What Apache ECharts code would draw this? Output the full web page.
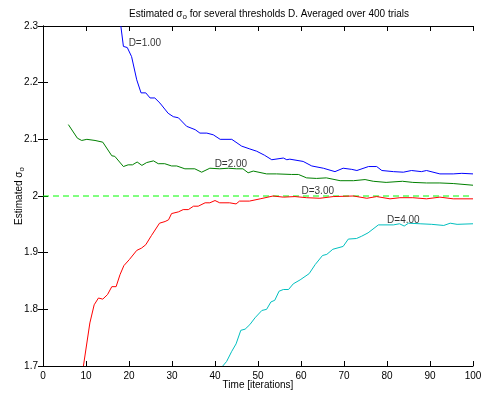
<!DOCTYPE html>
<html>
<head>
<meta charset="utf-8">
<script src="https://cdn.jsdelivr.net/npm/echarts@6/dist/echarts.min.js"></script>
<style>
  html, body { margin: 0; padding: 0; background: #fff; }
  #chart { width: 483px; height: 394px; }
</style>
</head>
<body>
<div id="chart"></div>
<script>
// x ticks / y ticks
const xTicks = { min: 0, max: 100, step: 10 };
const yTicks = { min: 1.7, max: 2.3, step: 0.1 };
const trueSigma = 2.0;

// [iteration, estimated sigma]
const d1Data = [[18.1,2.3],[18.7,2.264],[19.6,2.262],[20.6,2.246],[21.8,2.205],[22.8,2.182],[23.9,2.182],[24.9,2.173],[26,2.173],[27.2,2.164],[29.1,2.146],[30.3,2.14],[31.5,2.138],[33.4,2.123],[35.4,2.117],[36.5,2.111],[38.1,2.111],[39.6,2.108],[41.2,2.1],[43.9,2.1],[46.2,2.088],[48.1,2.083],[49.7,2.079],[51.5,2.072],[53.2,2.064],[55.9,2.067],[56.7,2.064],[57.4,2.065],[60.5,2.061],[62.5,2.053],[65.2,2.049],[67.9,2.043],[69.8,2.049],[71.8,2.047],[73,2.045],[75.7,2.052],[77.6,2.052],[78.8,2.045],[81.5,2.043],[83.8,2.042],[85.7,2.045],[88,2.043],[89.2,2.045],[92.3,2.039],[95.4,2.039],[97.4,2.04],[100,2.039]];
const d2Data = [[5.9,2.126],[8,2.102],[9,2.098],[10.2,2.1],[12.1,2.098],[13.9,2.095],[16,2.071],[16.7,2.07],[18.7,2.052],[19.8,2.055],[20.8,2.055],[21.9,2.06],[23,2.054],[24.1,2.059],[25.7,2.062],[26.8,2.057],[28.3,2.057],[29.9,2.053],[31.1,2.053],[33,2.048],[35.3,2.048],[36.9,2.042],[38.8,2.049],[41.1,2.048],[43.1,2.049],[45,2.048],[46.5,2.048],[47.7,2.041],[48.9,2.044],[52,2.039],[54.3,2.039],[57.8,2.038],[59.4,2.038],[61.3,2.032],[63.6,2.031],[65.9,2.032],[69.1,2.027],[72.2,2.027],[74.9,2.029],[76.8,2.026],[79.8,2.024],[83.6,2.026],[86,2.024],[89.2,2.023],[92.3,2.023],[95.4,2.022],[100,2.019]];
const d3Data = [[9.4,1.7],[10.9,1.776],[11.9,1.808],[12.9,1.82],[13.9,1.818],[15,1.826],[16,1.84],[17,1.84],[17.9,1.861],[18.8,1.877],[20.1,1.888],[21.8,1.904],[22.9,1.908],[23.9,1.914],[25.2,1.93],[27.1,1.952],[28.4,1.955],[29.2,1.958],[29.9,1.969],[31.5,1.972],[32.6,1.976],[33.8,1.976],[35,1.982],[36.1,1.982],[37.7,1.988],[38.8,1.988],[40,1.992],[41.1,1.988],[43.4,1.988],[44.9,1.986],[45.7,1.991],[48,1.991],[50.5,1.995],[53.5,2.0],[55.9,1.998],[58.6,1.999],[61.3,1.997],[64.4,1.996],[67.5,1.999],[72.2,2.0],[75.3,1.996],[77.6,1.999],[80.7,1.995],[83,1.997],[86,1.997],[89.2,1.995],[92.3,1.998],[95.4,1.995],[100,1.995]];
const d4Data = [[41.8,1.7],[42.7,1.708],[43.9,1.726],[44.9,1.739],[46,1.763],[47,1.765],[48.1,1.773],[49.3,1.785],[50.9,1.798],[52,1.8],[53,1.813],[53.9,1.816],[54.9,1.832],[55.9,1.835],[57.1,1.835],[58.2,1.845],[59.8,1.852],[61.9,1.863],[63.3,1.879],[65,1.895],[66,1.897],[67.4,1.906],[69.8,1.911],[71,1.924],[72.9,1.925],[74.1,1.929],[75.6,1.935],[78,1.949],[81.5,1.949],[82.9,1.951],[84,1.947],[85,1.952],[87.7,1.951],[90.4,1.95],[93.2,1.948],[94.7,1.952],[96.3,1.95],[100,1.951]];

// curve labels: text and anchor (left edge) in data units
const labelTexts = ['D=1.00', 'D=2.00', 'D=3.00', 'D=4.00'];
const labelAnchors = [[19.8, 2.269], [39.8, 2.056], [60, 2.008], [79.9, 1.957]];

const FONT = '"Liberation Sans", Arial, Helvetica, sans-serif';
const COLORS = ['#0000ff', '#008000', '#ff0000', '#00bfbf'];

const chart = echarts.init(document.getElementById('chart'), null, { renderer: 'canvas' });

const baseAxis = {
  axisLine: { show: true, lineStyle: { color: '#000', width: 1 } },
  axisTick: { show: true, inside: true, length: 5, lineStyle: { color: '#000' } },
  splitLine: { show: false },
  nameMoveOverlap: false,
};

const lineSeries = (name, data, color) => ({
  name,
  type: 'line',
  data,
  showSymbol: false,
  symbol: 'none',
  clip: true,
  lineStyle: { width: 1, color },
  itemStyle: { color },
  z: 3,
});

chart.setOption({
  animation: false,
  backgroundColor: '#fff',
  title: {
    text: 'Estimated σ{sub|o} for several thresholds D. Averaged over 400 trials',
    left: 124,
    top: 2,
    textStyle: {
      fontFamily: FONT, fontSize: 10, fontWeight: 'normal', color: '#000',
      lineHeight: 14,
      rich: {
        sub: { fontFamily: FONT, fontSize: 8, color: '#000', verticalAlign: 'bottom', lineHeight: 8 },
      },
    },
  },
  grid: { left: 43, right: 10, top: 26, bottom: 28, containLabel: false, outerBoundsMode: 'none' },
  xAxis: [
    {
      ...baseAxis,
      type: 'value',
      min: xTicks.min, max: xTicks.max, interval: xTicks.step,
      position: 'bottom',
      axisLabel: { color: '#000', fontFamily: FONT, fontSize: 10, margin: 5 },
      name: 'Time [iterations]',
      nameLocation: 'middle',
      nameGap: 14,
      nameTextStyle: { color: '#000', fontFamily: FONT, fontSize: 10 },
    },
    {
      ...baseAxis,
      type: 'value',
      min: xTicks.min, max: xTicks.max, interval: xTicks.step,
      position: 'top',
      axisLabel: { show: false },
    },
  ],
  yAxis: [
    {
      ...baseAxis,
      type: 'value',
      min: yTicks.min, max: yTicks.max, interval: yTicks.step,
      position: 'left',
      axisLabel: { color: '#000', fontFamily: FONT, fontSize: 10, margin: 5 },
      name: 'Estimated σ{sub|o}',
      nameLocation: 'middle',
      nameGap: 17,
      nameTextStyle: {
        color: '#000', fontFamily: FONT, fontSize: 10, lineHeight: 14,
        rich: { sub: { fontFamily: FONT, fontSize: 8, color: '#000', verticalAlign: 'bottom', lineHeight: 8 } },
      },
    },
    {
      ...baseAxis,
      type: 'value',
      min: yTicks.min, max: yTicks.max, interval: yTicks.step,
      position: 'right',
      axisLabel: { show: false },
    },
  ],
  series: [
    {
      name: 'true',
      type: 'line',
      data: [[xTicks.min, trueSigma], [xTicks.max, trueSigma]],
      showSymbol: false,
      symbol: 'none',
      lineStyle: { width: 1, color: '#00ff00', type: [6, 4] },
      z: 2,
    },
    lineSeries('D=1.00', d1Data, COLORS[0]),
    lineSeries('D=2.00', d2Data, COLORS[1]),
    lineSeries('D=3.00', d3Data, COLORS[2]),
    lineSeries('D=4.00', d4Data, COLORS[3]),
    {
      name: 'labels',
      type: 'scatter',
      symbolSize: 1,
      itemStyle: { color: 'rgba(0,0,0,0)' },
      data: labelAnchors.map((p, i) => [p[0], p[1], labelTexts[i]]),
      label: {
        show: true,
        position: 'right',
        distance: 0,
        formatter: (p) => p.value[2],
        color: '#000',
        fontFamily: FONT,
        fontSize: 10,
      },
      z: 5,
    },
  ],
});
</script>
</body>
</html>
